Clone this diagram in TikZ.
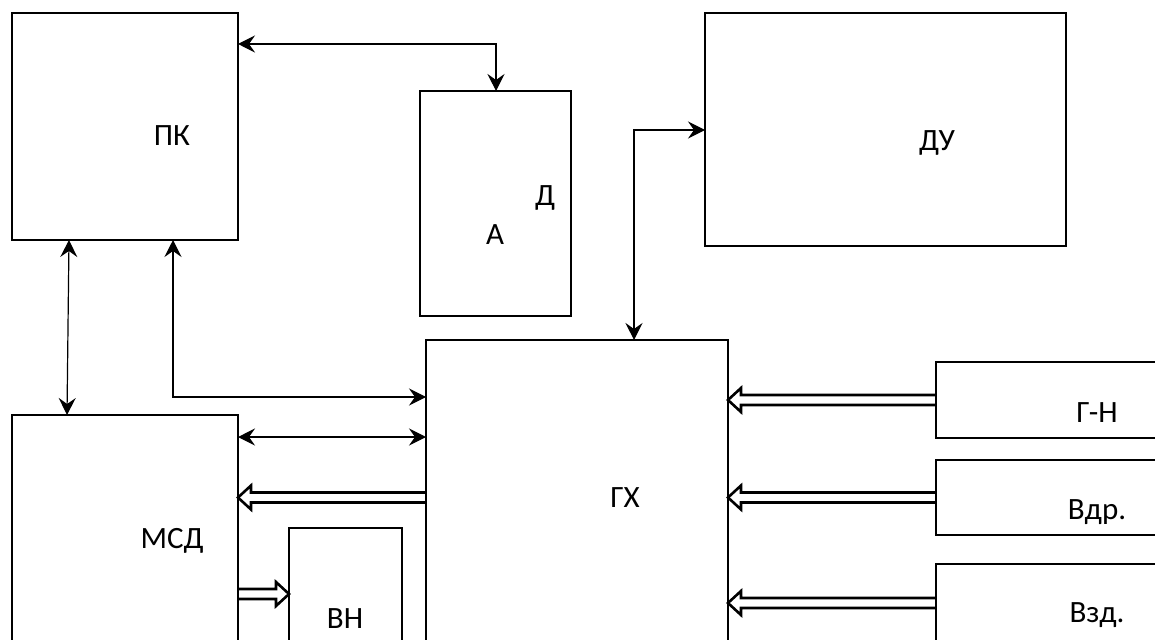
\documentclass[tikz,border=0pt]{standalone}
\usepackage{fontspec}
\setmainfont{Carlito}
\usetikzlibrary{arrows.meta,calc}
\tikzset{
  box/.style={draw, line width=2.5pt, rectangle, anchor=north west, inner sep=0pt, outer sep=0pt},
  lbl/.style={anchor=base, inner sep=0pt, font=\fontsize{31}{34}\selectfont},
  tip/.style={},
  conn/.style={line width=1.2pt, {Stealth[length=17pt,width=17pt,inset=6pt]}-{Stealth[length=17pt,width=17pt,inset=6pt]}},
  hollowarr/.style={line width=2.6pt, line join=miter}
}
\newcommand\hollowarrow[2]{%
  \draw[hollowarr] let \p1=#1, \p2=#2, \n1={(\x2>\x1)?1:-1} in
    (\x1,\y2+5pt) -- ({\x2-\n1*13pt},\y2+5pt) -- ({\x2-\n1*13pt},\y2+12pt) -- (\x2,\y2)
    -- ({\x2-\n1*13pt},\y2-12pt) -- ({\x2-\n1*13pt},\y2-5pt) -- (\x1,\y2-5pt);}
\begin{document}
\begin{tikzpicture}[x=1pt,y=-1pt]
\useasboundingbox (0,0) rectangle (1155,639);
\clip (0,0) rectangle (1155,639);
\fill[white] (0,0) rectangle (1155,639);
% boxes
\node[box, minimum width=226pt, minimum height=227pt] (pk) at (12,13) {};
\node[box, minimum width=151pt, minimum height=225pt] (ad) at (420,91) {};
\node[box, minimum width=361pt, minimum height=233pt] (du) at (705,13) {};
\node[box, minimum width=302pt, minimum height=330pt] (gx) at (426,340) {};
\node[box, minimum width=226pt, minimum height=260pt] (msd) at (12,415) {};
\node[box, minimum width=113pt, minimum height=150pt] (vn) at (289,528) {};
\node[box, minimum width=240pt, minimum height=76pt] (gn) at (936,362) {};
\node[box, minimum width=240pt, minimum height=75pt] (vdr) at (936,460) {};
\node[box, minimum width=240pt, minimum height=110pt] (vzd) at (936,564) {};
% labels
\node[lbl] (tpk) at (172,146) {ПК};
\node[lbl] (td) at (545,205) {Д};
\node[lbl] (ta) at (495,244) {А};
\node[lbl] (tdu) at (937,150) {ДУ};
\node[lbl] (tgx) at (625,507) {ГХ};
\node[lbl] (tmsd) at (172,548) {МСД};
\node[lbl] (tvn) at (345,628) {ВН};
\node[lbl] (tgn) at (1097,422) {Г-Н};
\node[lbl] (tvdr) at (1097,519) {Вдр.};
\node[lbl] (tvzd) at (1097,622) {Взд.};
% thin connectors
\draw[conn] (pk.east |- 0,44) -| (ad.north -| 496,0);
\draw[conn] (du.west |- 0,130) -| (gx.north -| 634,0);
\draw[conn] (pk.south -| 69,0) -- (msd.north -| 67,0);
\draw[conn] (pk.south -| 173,0) |- (gx.west |- 0,397);
\draw[conn] (msd.east |- 0,437) -- (gx.west |- 0,437);
% hollow arrows
\hollowarrow{(gx.west)}{(msd.east |- 0,497.5)}
\hollowarrow{(msd.east)}{(vn.west |- 0,594)}
\hollowarrow{(gn.west)}{(gx.east |- 0,400)}
\hollowarrow{(vdr.west)}{(gx.east |- 0,497.5)}
\hollowarrow{(vzd.west)}{(gx.east |- 0,603)}
\end{tikzpicture}
\end{document}
